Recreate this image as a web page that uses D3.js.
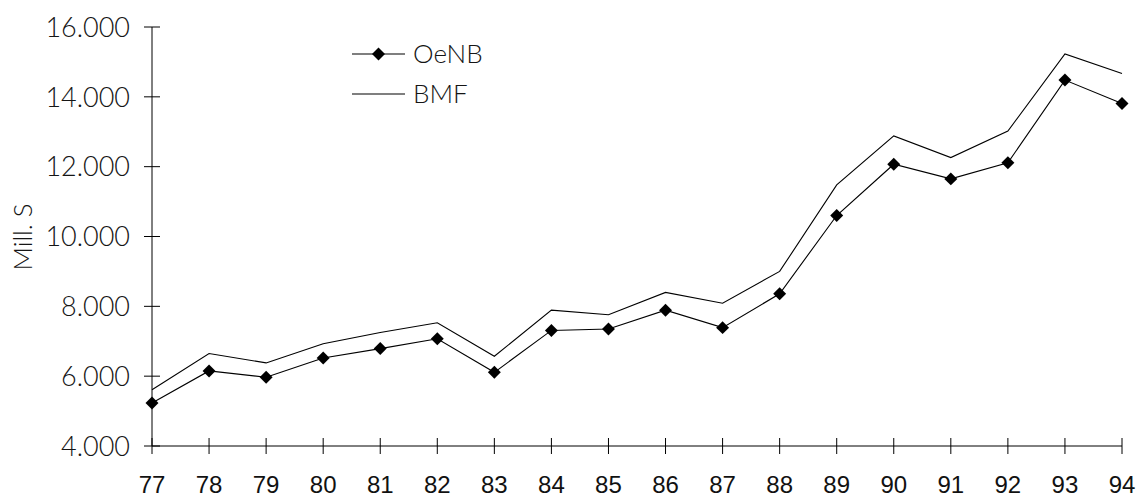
<!DOCTYPE html>
<html>
<head>
<meta charset="utf-8">
<script src="https://cdn.jsdelivr.net/npm/d3@7/dist/d3.min.js"></script>
<style>
  html, body { margin: 0; padding: 0; background: #fff; }
  svg { display: block; }
</style>
</head>
<body>
<script>
// Years (two-digit labels) and the two series, in Mill. S
const years = ["77","78","79","80","81","82","83","84","85","86","87","88","89","90","91","92","93","94"];
const oenb  = [5230, 6150, 5970, 6520, 6790, 7070, 6110, 7310, 7350, 7890, 7390, 8360, 10600, 12070, 11650, 12110, 14480, 13810];
const bmf   = [5610, 6650, 6380, 6930, 7250, 7530, 6570, 7890, 7760, 8400, 8090, 9000, 11480, 12880, 12260, 13020, 15230, 14670];
const yTicks = [4000, 6000, 8000, 10000, 12000, 14000, 16000];
const seriesNames = ["OeNB", "BMF"];

const W = 1140, H = 499;
const margin = { top: 27, right: 18, bottom: 53, left: 152 };

const svg = d3.select("body").append("svg")
  .attr("width", W).attr("height", H);

const x = d3.scalePoint()
  .domain(years)
  .range([margin.left, W - margin.right]);

const y = d3.scaleLinear()
  .domain([4000, 16000])
  .range([H - margin.bottom, margin.top]);

const fmt = d => d3.format(",")(d).replace(/,/g, ".");
const gothic = "'Lato', 'Noto Sans', sans-serif";
const textColor = "#151515";

// Y axis: line with ticks crossing both sides
const yAxis = svg.append("g");
yAxis.append("line")
  .attr("x1", x(years[0])).attr("x2", x(years[0]))
  .attr("y1", y(16000)).attr("y2", y(4000))
  .attr("stroke", "#000").attr("stroke-width", 1);
yAxis.selectAll("line.tick").data(yTicks).enter().append("line")
  .attr("class", "tick")
  .attr("x1", x(years[0]) - 8).attr("x2", x(years[0]) + 8)
  .attr("y1", d => y(d)).attr("y2", d => y(d))
  .attr("stroke", "#000").attr("stroke-width", 1);
yAxis.selectAll("text").data(yTicks).enter().append("text")
  .attr("x", x(years[0]) - 22)
  .attr("y", d => y(d))
  .attr("dy", "0.36em")
  .attr("text-anchor", "end")
  .attr("font-family", gothic)
  .attr("font-weight", 300)
  .attr("font-size", 27)
  .attr("fill", textColor)
  .text(fmt);

// X axis: line with ticks crossing both sides
const xAxis = svg.append("g");
xAxis.append("line")
  .attr("x1", x(years[0])).attr("x2", x(years[years.length - 1]))
  .attr("y1", y(4000)).attr("y2", y(4000))
  .attr("stroke", "#000").attr("stroke-width", 1);
xAxis.selectAll("line.tick").data(years).enter().append("line")
  .attr("class", "tick")
  .attr("x1", d => x(d)).attr("x2", d => x(d))
  .attr("y1", y(4000) - 8).attr("y2", y(4000) + 8)
  .attr("stroke", "#000").attr("stroke-width", 1);
xAxis.selectAll("text").data(years).enter().append("text")
  .attr("x", d => x(d))
  .attr("y", H - 6)
  .attr("text-anchor", "middle")
  .attr("font-family", "'Liberation Sans', Arial, sans-serif")
  .attr("font-size", 24)
  .attr("fill", "#111")
  .text(d => d);

// Y axis title
svg.append("text")
  .attr("transform", `translate(32, 237) rotate(-90)`)
  .attr("text-anchor", "middle")
  .attr("font-family", gothic)
  .attr("font-weight", 300)
  .attr("font-size", 26)
  .attr("textLength", 67)
  .attr("lengthAdjust", "spacingAndGlyphs")
  .attr("fill", textColor)
  .text("Mill. S");

const line = d3.line()
  .x((d, i) => x(years[i]))
  .y(d => y(d));

// BMF: plain line
svg.append("path")
  .datum(bmf)
  .attr("d", line)
  .attr("fill", "none")
  .attr("stroke", "#000")
  .attr("stroke-width", 1.1);

// OeNB: line with diamond markers
svg.append("path")
  .datum(oenb)
  .attr("d", line)
  .attr("fill", "none")
  .attr("stroke", "#000")
  .attr("stroke-width", 1.1);

const diamond = d3.symbol().type(d3.symbolSquare).size(84);
svg.selectAll("path.marker").data(oenb).enter().append("path")
  .attr("class", "marker")
  .attr("d", diamond)
  .attr("transform", (d, i) => `translate(${x(years[i])},${y(d)}) rotate(45)`)
  .attr("fill", "#000");

// Legend
const legend = svg.append("g").attr("transform", "translate(352, 54)");
seriesNames.forEach((name, i) => {
  const g = legend.append("g").attr("transform", `translate(0, ${i * 40})`);
  g.append("line")
    .attr("x1", 0).attr("x2", 53)
    .attr("y1", 0).attr("y2", 0)
    .attr("stroke", "#000").attr("stroke-width", 1.1);
  if (name === "OeNB") {
    g.append("path")
      .attr("d", diamond)
      .attr("transform", "translate(26.5,0) rotate(45)")
      .attr("fill", "#000");
  }
  g.append("text")
    .attr("x", 61)
    .attr("y", 0)
    .attr("dy", "0.36em")
    .attr("font-family", gothic)
    .attr("font-weight", 300)
    .attr("font-size", 26)
    .attr("fill", textColor)
    .text(name);
});
</script>
</body>
</html>
